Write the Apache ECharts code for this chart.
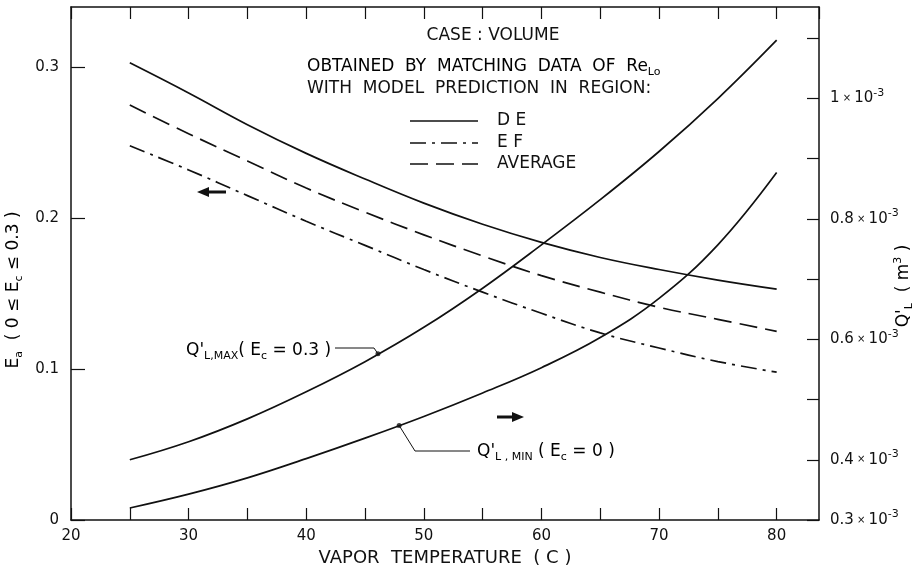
<!DOCTYPE html>
<html><head><meta charset="utf-8">
<script src="https://cdn.jsdelivr.net/npm/echarts@6/dist/echarts.min.js"></script>
<style>html,body{margin:0;padding:0;background:#fff}#c{width:920px;height:573px}</style>
</head><body><div id="c"></div>
<script>
// ---- data ----
const temps = [25, 30, 35, 40, 45, 50, 55, 60, 65, 70, 75, 80];
const eaDE  = [0.303, 0.283, 0.262, 0.243, 0.226, 0.210, 0.196, 0.184, 0.174, 0.166, 0.159, 0.153];
const eaEF  = [0.248, 0.232, 0.215, 0.198, 0.182, 0.166, 0.151, 0.137, 0.124, 0.114, 0.105, 0.098];
const eaAVG = [0.275, 0.256, 0.238, 0.220, 0.204, 0.189, 0.175, 0.162, 0.151, 0.141, 0.133, 0.125];
// Q'L in units of 1e-3 m^3
const qMax  = [0.400, 0.430, 0.468, 0.513, 0.563, 0.620, 0.685, 0.757, 0.832, 0.912, 1.000, 1.097];
const qMin  = [0.320, 0.343, 0.370, 0.402, 0.436, 0.472, 0.511, 0.553, 0.603, 0.668, 0.757, 0.877];
const qMaxDot = [46.1, 0.576];
const qMinDot = [47.9, 0.457];
const rightTickLabels = {'0.3':'0.3', '0.4':'0.4', '0.6':'0.6', '0.8':'0.8', '1':'1'};
const xTickLabels = [20, 30, 40, 50, 60, 70, 80];

const FONT = 'DejaVu Sans';
const INK = '#111';
const pair = (xs, ys) => xs.map((x, i) => [x, ys[i]]);

const chart = echarts.init(document.getElementById('c'));
const axisLineStyle = {color: INK, width: 1.5};
const option = {
  backgroundColor: '#fff',
  animation: false,
  grid: {left: 71, right: 101, top: 7, bottom: 53},
  xAxis: [{
    type: 'value', position: 'bottom', min: 20, max: 83.6, interval: 5,
    axisLine: {lineStyle: axisLineStyle},
    axisTick: {inside: true, length: 12, lineStyle: {color: INK, width: 1.2}},
    splitLine: {show: false},
    axisLabel: {color: INK, fontFamily: FONT, fontSize: 15, margin: 9, showMaxLabel: false,
      formatter: v => xTickLabels.indexOf(Math.round(v)) >= 0 && Math.abs(v - Math.round(v)) < 1e-6 ? String(Math.round(v)) : ''},
    name: 'VAPOR  TEMPERATURE  ( C )', nameLocation: 'middle', nameGap: 27,
    nameTextStyle: {color: INK, fontFamily: FONT, fontSize: 18}
  }, {
    type: 'value', position: 'top', min: 20, max: 83.6, interval: 5,
    axisLine: {lineStyle: axisLineStyle},
    axisTick: {inside: true, length: 12, lineStyle: {color: INK, width: 1.2}},
    axisLabel: {show: false}, splitLine: {show: false}
  }],
  yAxis: [{
    type: 'value', position: 'left', min: 0, max: 0.34, interval: 0.1,
    axisLine: {show: true, lineStyle: axisLineStyle},
    axisTick: {show: true, inside: true, length: 14, lineStyle: {color: INK, width: 1.2}},
    splitLine: {show: false},
    axisLabel: {color: INK, fontFamily: FONT, fontSize: 15, margin: 12, showMaxLabel: false,
      formatter: v => Math.abs(v - 0.34) < 1e-6 ? '' : String(Math.round(v * 10) / 10)}
  }, {
    type: 'value', position: 'right', min: 0.3, max: 1.152, interval: 0.1,
    axisLine: {show: true, lineStyle: axisLineStyle},
    axisTick: {show: true, inside: true, length: 12, lineStyle: {color: INK, width: 1.2}},
    splitLine: {show: false},
    axisLabel: {color: INK, fontFamily: FONT, margin: 11, showMaxLabel: false,
      formatter: v => {
        const k = String(Math.round(v * 10) / 10);
        const t = rightTickLabels[k];
        return t ? '{a|' + t + '}{x| × }{a|10}{s|-3}' : '';
      },
      rich: {
        a: {fontFamily: FONT, fontSize: 15, color: INK},
        x: {fontFamily: FONT, fontSize: 10, color: INK},
        s: {fontFamily: FONT, fontSize: 11, color: INK, padding: [0, 0, 11, 0]}
      }}
  }],
  series: [
    {name: 'DE', type: 'line', xAxisIndex: 0, yAxisIndex: 0, data: pair(temps, eaDE), smooth: 0.4,
      showSymbol: false, lineStyle: {color: INK, width: 1.7, type: 'solid'}},
    {name: 'EF', type: 'line', xAxisIndex: 0, yAxisIndex: 0, data: pair(temps, eaEF), smooth: 0.4,
      showSymbol: false, lineStyle: {color: INK, width: 1.7, type: [16, 6, 3, 6]}},
    {name: 'AVERAGE', type: 'line', xAxisIndex: 0, yAxisIndex: 0, data: pair(temps, eaAVG), smooth: 0.4,
      showSymbol: false, lineStyle: {color: INK, width: 1.7, type: [18, 8]}},
    {name: "Q'L,MAX", type: 'line', xAxisIndex: 0, yAxisIndex: 1, data: pair(temps, qMax), smooth: 0.4,
      showSymbol: false, lineStyle: {color: INK, width: 1.7}},
    {name: "Q'L,MIN", type: 'line', xAxisIndex: 0, yAxisIndex: 1, data: pair(temps, qMin), smooth: 0.4,
      showSymbol: false, lineStyle: {color: INK, width: 1.7}},
    {name: 'dots', type: 'scatter', xAxisIndex: 0, yAxisIndex: 1, data: [qMaxDot, qMinDot],
      symbolSize: 5, itemStyle: {color: INK}}
  ]
};
chart.setOption(option);

// ---- annotations ----
const pMax = chart.convertToPixel({xAxisIndex: 0, yAxisIndex: 1}, qMaxDot);
const pMin = chart.convertToPixel({xAxisIndex: 0, yAxisIndex: 1}, qMinDot);
const TF = '17px "' + FONT + '"';
const txt = (x, y, text, extra) => ({type: 'text', x: x, y: y, style: Object.assign({text: text, fill: INK, font: TF}, extra || {})});
const legLine = (y, dash) => ({type: 'line', shape: {x1: 410, y1: y, x2: 478, y2: y}, style: {stroke: INK, lineWidth: 1.7, lineDash: dash}});
const rich = {
  b: {fontFamily: FONT, fontSize: 17, color: INK},
  sub: {fontFamily: FONT, fontSize: 11, color: INK, padding: [11, 0, 0, 0]},
  sup: {fontFamily: FONT, fontSize: 11, color: INK, padding: [0, 0, 11, 0]}
};
const graphics = [
  txt(493, 36, 'CASE : VOLUME', {textAlign: 'center', textVerticalAlign: 'middle'}),
  {type: 'text', x: 307, y: 67, style: {text: '{b|OBTAINED  BY  MATCHING  DATA  OF  Re}{sub|Lo}', rich: rich, textVerticalAlign: 'middle'}},
  txt(307, 89, 'WITH  MODEL  PREDICTION  IN  REGION:', {textVerticalAlign: 'middle'}),
  legLine(121, null), legLine(143, [16, 6, 3, 6]), legLine(164, [18, 8]),
  txt(497, 121, 'D E', {textVerticalAlign: 'middle'}),
  txt(497, 143, 'E F', {textVerticalAlign: 'middle'}),
  txt(497, 164, 'AVERAGE', {textVerticalAlign: 'middle'}),
  // arrows
  {type: 'line', shape: {x1: 207, y1: 192, x2: 226, y2: 192}, style: {stroke: INK, lineWidth: 3}},
  {type: 'polygon', shape: {points: [[197, 192], [209, 187], [209, 197]]}, style: {fill: INK}},
  {type: 'line', shape: {x1: 497, y1: 417, x2: 514, y2: 417}, style: {stroke: INK, lineWidth: 3}},
  {type: 'polygon', shape: {points: [[524, 417], [512, 412], [512, 422]]}, style: {fill: INK}},
  // Q'L,MAX label + leader
  {type: 'text', x: 186, y: 351, style: {text: "{b|Q'}{sub|L,MAX}{b|( E}{sub|c}{b| = 0.3 )}", rich: rich, textVerticalAlign: 'middle'}},
  {type: 'polyline', shape: {points: [[335, 348], [374, 348], [pMax[0], pMax[1]]]}, style: {stroke: INK, lineWidth: 1, fill: null}},
  // Q'L,MIN label + leader
  {type: 'text', x: 477, y: 452, style: {text: "{b|Q'}{sub|L , MIN}{b| ( E}{sub|c}{b| = 0 )}", rich: rich, textVerticalAlign: 'middle'}},
  {type: 'polyline', shape: {points: [[pMin[0], pMin[1]], [415, 451], [470, 451]]}, style: {stroke: INK, lineWidth: 1, fill: null}},
  // axis titles
  {type: 'text', x: 14, y: 290, rotation: Math.PI / 2,
    style: {text: '{b|E}{sub|a}{b|  ( 0 ≤ E}{sub|c}{b| ≤ 0.3 )}', rich: rich, textAlign: 'center', textVerticalAlign: 'middle'}},
  {type: 'text', x: 904, y: 286, rotation: Math.PI / 2,
    style: {text: "{b|Q'}{sub|L}{b|  ( m}{sup|3}{b| )}", rich: rich, textAlign: 'center', textVerticalAlign: 'middle'}}
];
chart.setOption({graphic: graphics});
</script>
</body></html>
